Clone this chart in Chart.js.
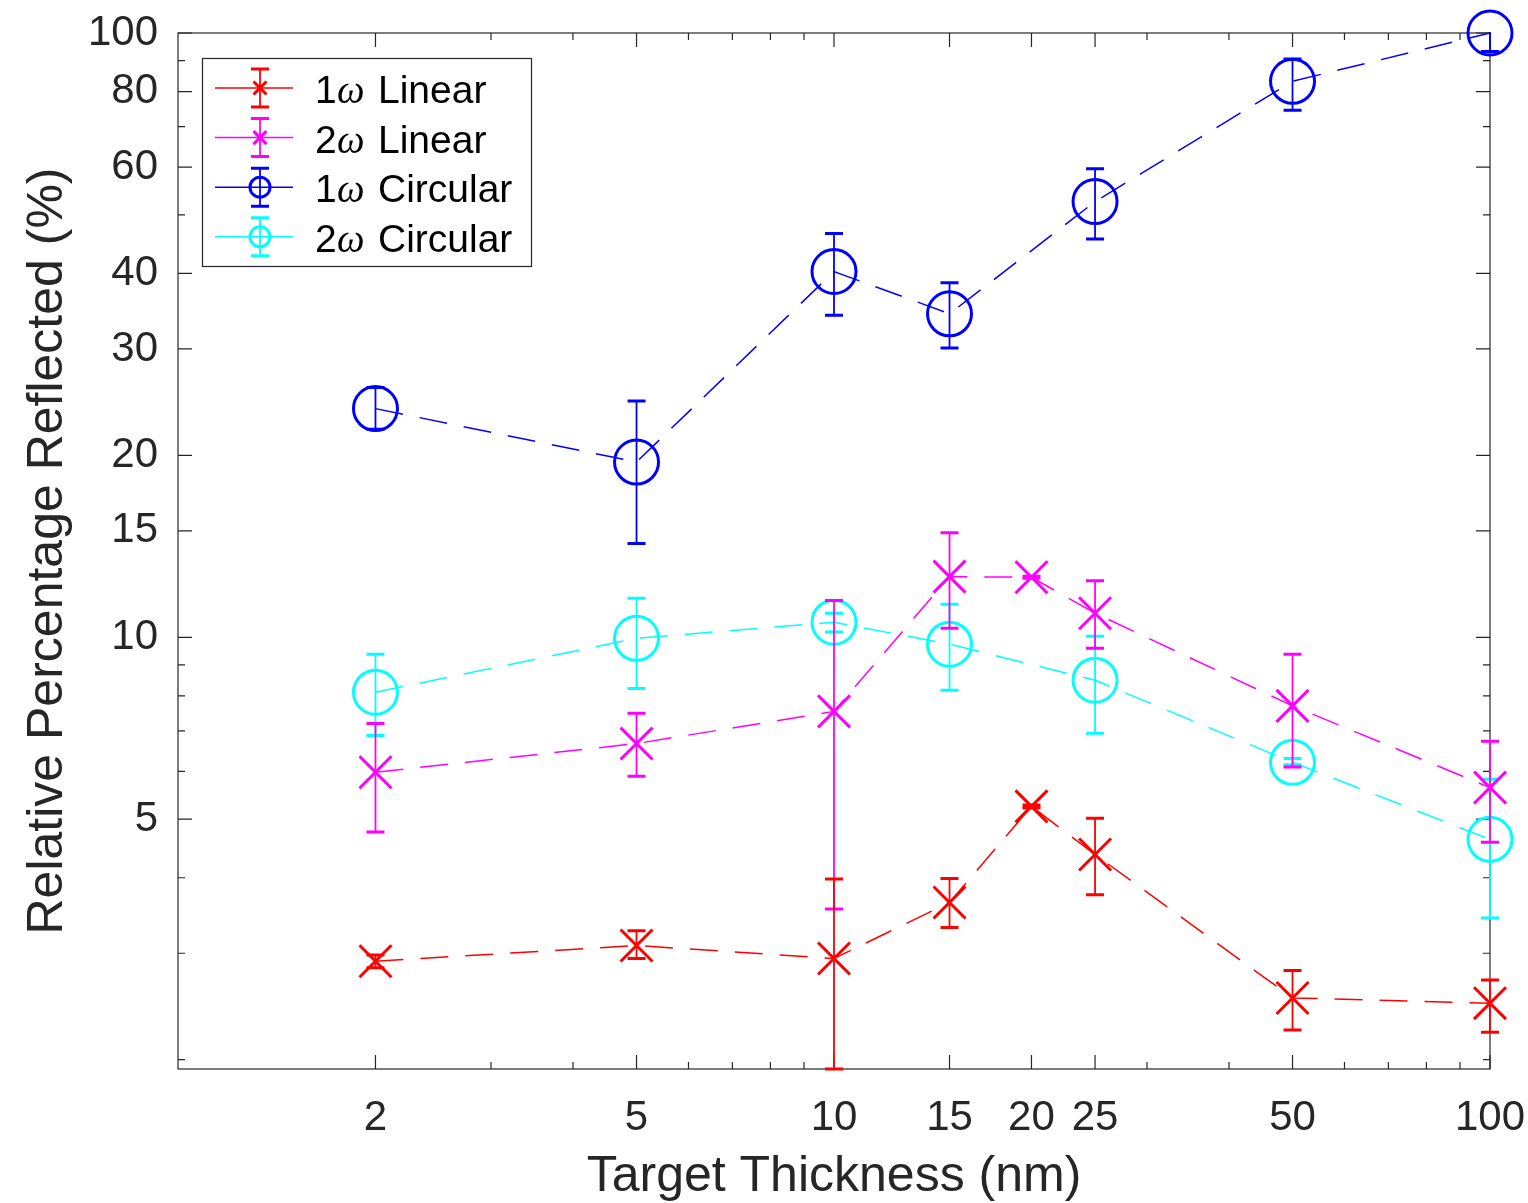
<!DOCTYPE html>
<html>
<head>
<meta charset="utf-8">
<title>Relative Percentage Reflected vs Target Thickness</title>
<script src="https://cdn.jsdelivr.net/npm/chart.js@4.4.1/dist/chart.umd.min.js"></script>
<style>
  html, body { margin: 0; padding: 0; background: #fff; }
  #wrap { width: 1528px; height: 1203px; position: relative; }
</style>
</head>
<body>
<div id="wrap"><canvas id="chart"></canvas></div>
<script>
// target thickness (nm) for each series
const thicknessLinear = [2, 5, 10, 15, 20, 25, 50, 100];
const thicknessCircular = [2, 5, 10, 15, 25, 50, 100];

// relative reflected (%), with lower / upper error bounds
const linear1w     = [2.91, 3.09, 2.94, 3.64, 5.25, 4.37, 2.53, 2.48];
const linear1wLow  = [2.84, 2.94, 1.93, 3.31, 5.22, 3.75, 2.24, 2.22];
const linear1wHigh = [2.98, 3.27, 3.98, 3.99, 5.28, 5.02, 2.81, 2.71];

const linear2w     = [5.98, 6.67, 7.54, 12.6, 12.57, 10.96, 7.70, 5.64];
const linear2wLow  = [4.76, 5.89, 3.55, 10.35, 12.52, 9.59, 6.10, 4.58];
const linear2wHigh = [7.20, 7.49, 11.5, 14.9, 12.62, 12.4, 9.37, 6.73];

const circular1w     = [23.9, 19.5, 40.3, 34.3, 52.6, 83.2, 100];
const circular1wLow  = [22.1, 14.3, 34.1, 30.1, 45.6, 74.5, 93.2];
const circular1wHigh = [25.9, 24.6, 46.6, 38.6, 59.6, 90.6, 106.8];

const circular2w     = [8.11, 9.96, 10.59, 9.74, 8.49, 6.21, 4.63];
const circular2wLow  = [6.88, 8.23, 10.20, 8.17, 6.94, 6.15, 3.43];
const circular2wHigh = [9.37, 11.6, 10.96, 11.34, 10.04, 6.30, 5.82];

const seriesLabels = ['1ω Linear', '2ω Linear', '1ω Circular', '2ω Circular'];

// axis ticks
const xTicks = [2, 3, 4, 5, 6, 7, 8, 9, 10, 15, 20, 25, 30, 40, 50, 60, 70, 80, 90, 100];
const xLabels = [2, 5, 10, 15, 20, 25, 50, 100];
const yTicks = [2, 3, 4, 5, 6, 7, 8, 9, 10, 15, 20, 30, 40, 50, 60, 70, 80, 90, 100];
const yLabels = [5, 10, 15, 20, 30, 40, 60, 80, 100];

const FONT = '"Liberation Sans", Arial, Helvetica, sans-serif';
const INK = '#262626';

function points(xs, ys) {
    return xs.map((x, i) => ({ x: x, y: ys[i] }));
}

function series(label, color, style, xs, ys, lo, hi) {
    return {
        label: label,
        data: points(xs, ys),
        errLow: lo,
        errHigh: hi,
        showLine: true,
        borderColor: color,
        borderWidth: 1.5,
        borderDash: [28, 17],
        pointStyle: style,
        pointRadius: style === 'circle' ? 22 : 22.6,
        pointBorderWidth: 3,
        pointBorderColor: color,
        pointBackgroundColor: 'rgba(0,0,0,0)',
        clip: false
    };
}

// box round the plot with inward ticks on all four sides
const axisBox = {
    id: 'axisBox',
    beforeDatasetsDraw(chart) {
        const { ctx, chartArea: a, scales: { x, y } } = chart;
        ctx.save();
        ctx.strokeStyle = INK;
        ctx.lineWidth = 1.2;
        ctx.strokeRect(a.left, a.top, a.right - a.left, a.bottom - a.top);
        ctx.beginPath();
        xTicks.forEach(v => {
            const px = x.getPixelForValue(v);
            const len = xLabels.includes(v) ? 14 : 7;
            ctx.moveTo(px, a.bottom); ctx.lineTo(px, a.bottom - len);
            ctx.moveTo(px, a.top); ctx.lineTo(px, a.top + len);
        });
        yTicks.forEach(v => {
            const py = y.getPixelForValue(v);
            const len = yLabels.includes(v) ? 14 : 7;
            ctx.moveTo(a.left, py); ctx.lineTo(a.left + len, py);
            ctx.moveTo(a.right, py); ctx.lineTo(a.right - len, py);
        });
        ctx.stroke();
        ctx.restore();
    }
};

function drawBar(ctx, px, yl, yh, half) {
    ctx.lineWidth = 1.8;
    ctx.beginPath();
    ctx.moveTo(px, yl); ctx.lineTo(px, yh);
    ctx.stroke();
    ctx.lineWidth = 3;
    ctx.beginPath();
    ctx.moveTo(px - half, yl); ctx.lineTo(px + half, yl);
    ctx.moveTo(px - half, yh); ctx.lineTo(px + half, yh);
    ctx.stroke();
}

// vertical error bars, drawn under each series' own line and markers
const errorBars = {
    id: 'errorBars',
    beforeDatasetDraw(chart, args) {
        const ds = chart.data.datasets[args.index];
        const { ctx, chartArea: a, scales: { x, y } } = chart;
        ctx.save();
        ctx.beginPath();
        ctx.rect(a.left - 20, a.top - 1, a.right - a.left + 40, a.bottom - a.top + 3);
        ctx.clip();
        ctx.strokeStyle = ds.borderColor;
        ctx.setLineDash([]);
        ds.data.forEach((p, i) => {
            drawBar(ctx, x.getPixelForValue(p.x),
                y.getPixelForValue(ds.errLow[i]), y.getPixelForValue(ds.errHigh[i]), 9);
        });
        ctx.restore();
    }
};

function drawMarker(ctx, style, cx, cy, r) {
    ctx.beginPath();
    if (style === 'circle') {
        ctx.arc(cx, cy, r, 0, Math.PI * 2);
    } else {
        ctx.moveTo(cx - r, cy - r); ctx.lineTo(cx + r, cy + r);
        ctx.moveTo(cx + r, cy - r); ctx.lineTo(cx - r, cy + r);
    }
    ctx.stroke();
}

const legendBox = {
    id: 'legendBox',
    afterDraw(chart) {
        const ctx = chart.ctx;
        ctx.save();
        ctx.fillStyle = '#fff';
        ctx.fillRect(202.5, 58.5, 329, 208);
        ctx.strokeStyle = INK;
        ctx.lineWidth = 1.2;
        ctx.strokeRect(202.5, 58.5, 329, 208);
        chart.data.datasets.forEach((ds, i) => {
            const cy = 88 + i * 49.6;
            ctx.strokeStyle = ds.borderColor;
            ctx.setLineDash([]);
            ctx.lineWidth = 1.5;
            ctx.beginPath();
            ctx.moveTo(215, cy); ctx.lineTo(293, cy);
            ctx.stroke();
            drawBar(ctx, 260, cy + 19, cy - 19, 9);
            ctx.lineWidth = 3;
            drawMarker(ctx, ds.pointStyle, 260, cy, ds.pointStyle === 'circle' ? 10 : 6.5);

            const label = ds.label;
            ctx.fillStyle = '#000';
            ctx.textBaseline = 'alphabetic';
            ctx.font = '39px ' + FONT;
            ctx.fillText(label.slice(0, 1), 315, cy + 15);
            ctx.font = 'italic 39px "Liberation Serif", "DejaVu Serif", serif';
            ctx.fillText(label.slice(1, 2), 337, cy + 15);
            ctx.font = '39px ' + FONT;
            ctx.fillText(label.slice(3), 378, cy + 15);
        });
        ctx.restore();
    }
};

const chart = new Chart(document.getElementById('chart'), {
    type: 'scatter',
    data: {
        datasets: [
            series(seriesLabels[0], '#ff0000', 'crossRot', thicknessLinear, linear1w, linear1wLow, linear1wHigh),
            series(seriesLabels[1], '#ff00ff', 'crossRot', thicknessLinear, linear2w, linear2wLow, linear2wHigh),
            series(seriesLabels[2], '#0000ff', 'circle', thicknessCircular, circular1w, circular1wLow, circular1wHigh),
            series(seriesLabels[3], '#00ffff', 'circle', thicknessCircular, circular2w, circular2wLow, circular2wHigh)
        ]
    },
    options: {
        responsive: true,
        maintainAspectRatio: false,
        animation: false,
        events: [],
        layout: { autoPadding: false, padding: { top: 33, right: 38, bottom: 0, left: 0 } },
        plugins: {
            legend: { display: false },
            tooltip: { enabled: false }
        },
        scales: {
            x: {
                type: 'logarithmic',
                min: 1,
                max: 100,
                bounds: 'data',
                afterBuildTicks: s => { s.ticks = xTicks.map(v => ({ value: v })); },
                afterFit: s => {
                    s.height = 134;
                    s.paddingLeft = 0;
                    s.paddingRight = 0;
                },
                grid: { display: false, drawTicks: false },
                border: { display: false },
                ticks: {
                    autoSkip: false,
                    maxRotation: 0,
                    padding: 24,
                    color: INK,
                    font: { family: FONT, size: 42 },
                    major: { enabled: false },
                    callback: v => xLabels.includes(v) ? String(v) : ''
                },
                title: {
                    display: true,
                    text: 'Target Thickness (nm)',
                    color: INK,
                    font: { family: FONT, size: 50, lineHeight: 1 },
                    padding: { top: 0, bottom: 1 }
                }
            },
            y: {
                type: 'logarithmic',
                min: 1.93,
                max: 100,
                bounds: 'data',
                afterBuildTicks: s => { s.ticks = yTicks.map(v => ({ value: v })); },
                afterFit: s => {
                    s.width = 178;
                    s.paddingTop = 0;
                    s.paddingBottom = 0;
                },
                grid: { display: false, drawTicks: false },
                border: { display: false },
                ticks: {
                    autoSkip: false,
                    padding: 20,
                    color: INK,
                    font: { family: FONT, size: 42 },
                    major: { enabled: false },
                    callback: v => yLabels.includes(v) ? String(v) : ''
                },
                title: {
                    display: true,
                    text: 'Relative Percentage Reflected (%)',
                    color: INK,
                    font: { family: FONT, size: 50, lineHeight: 1 },
                    padding: { top: 23, bottom: 0 }
                }
            }
        }
    },
    plugins: [axisBox, errorBars, legendBox]
});
</script>
</body>
</html>
